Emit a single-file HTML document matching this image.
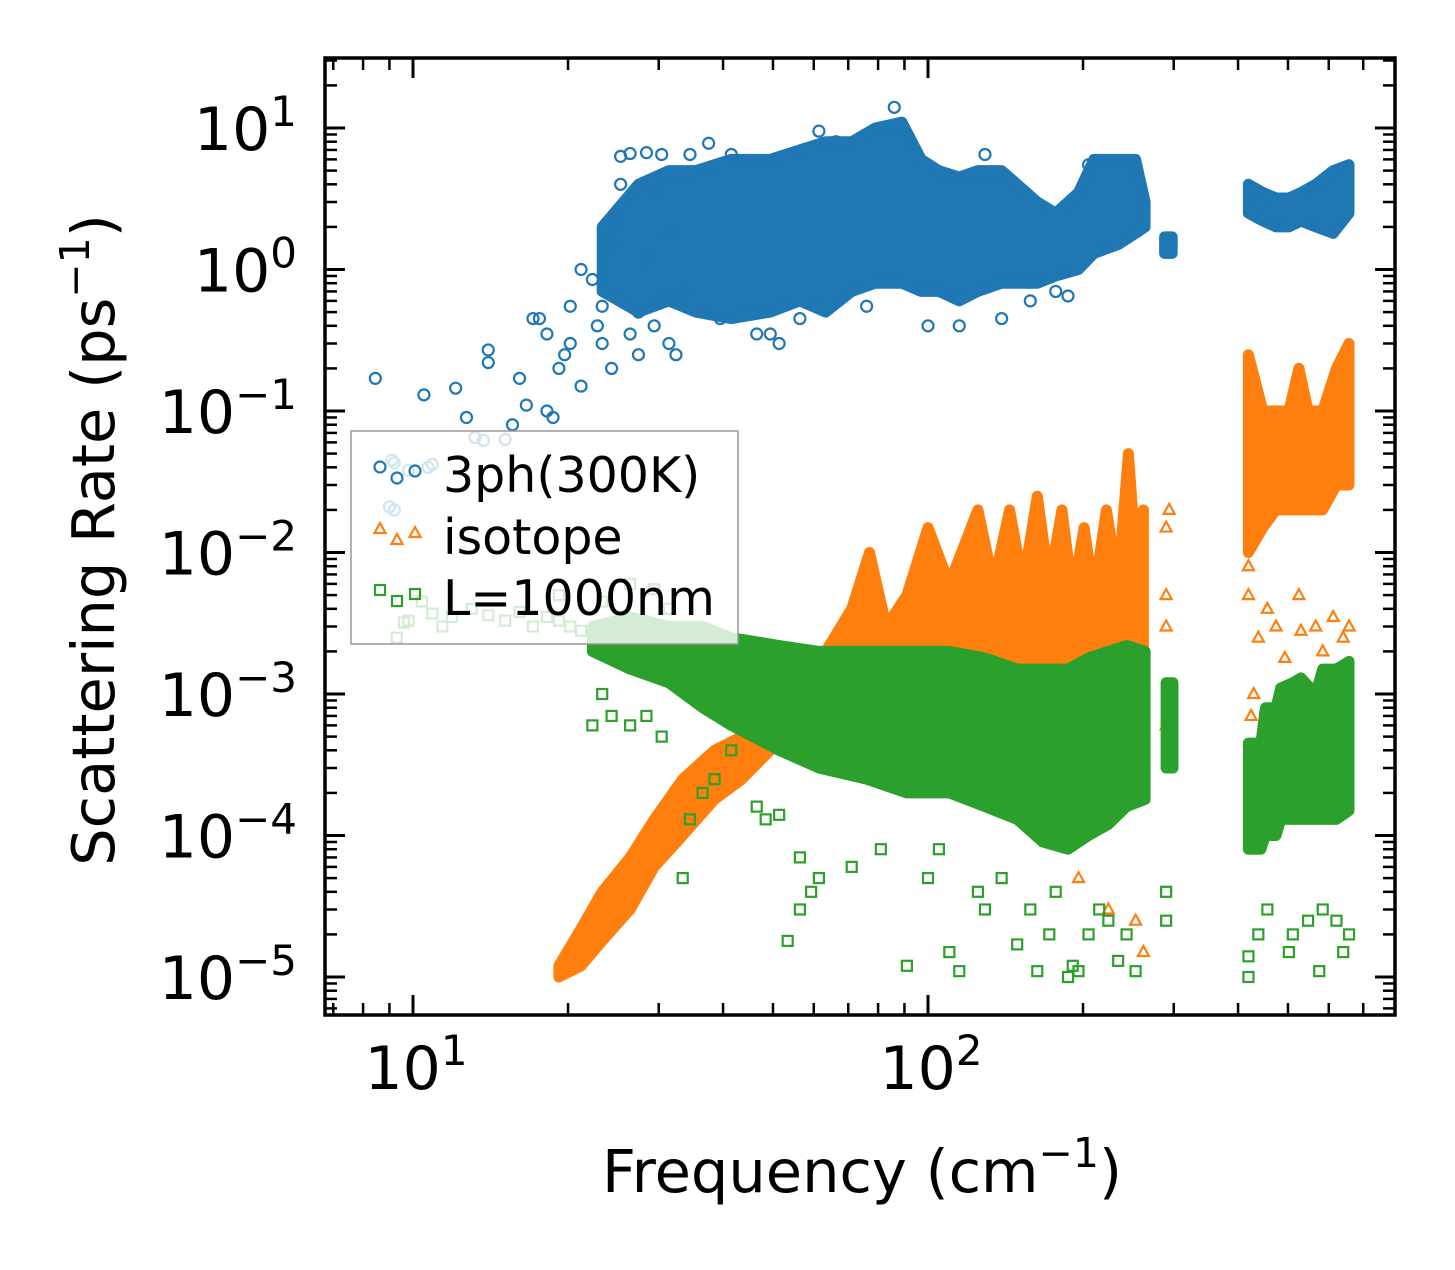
<!DOCTYPE html>
<html><head><meta charset="utf-8"><style>
html,body{margin:0;padding:0;background:#fff}
svg text{font-family:"DejaVu Sans","Liberation Sans",sans-serif;fill:#000}
</style></head><body>
<svg id="chart" width="1455" height="1265" xmlns="http://www.w3.org/2000/svg">
<defs><clipPath id="clip"><rect x="325" y="58" width="1070" height="957"/></clipPath></defs>
<g id="marks" clip-path="url(#clip)"></g>
<g id="axes"></g>
<g id="legend"></g>
</svg>
<script>
// ---- data ----
const blueSparseF=[8.45,10.5,12.1,12.7,13.7,15.1,13.2,14,14,15.6,16.1,16.6,17.1,17.6,18.2,18.2,18.7,19.2,19.7,20.2,20.2,21.2,21.2,22.3,22.8,23.3,23.3,24.3,24.3,24.8,25.3,25.3,26.4,26.4,27.4,27.4,28.4,28.4,29.4,29.4,30.4,30.4,31.4,31.4,32.4,33.4,34.5,37.5,39.5,41.5,46.5,49.4,51.4,56.4,61.4,66.3,76,86,100,115,139,158,177,187,205,129,9.1,9.2,9.8,10.7,10.9,9.0,9.2];
const blueSparseV=[0.17,0.13,0.145,0.09,0.062,0.063,0.065,0.27,0.22,0.08,0.17,0.11,0.45,0.45,0.35,0.1,0.09,0.2,0.25,0.3,0.55,0.15,1.0,0.85,0.4,0.3,0.55,0.2,1.5,2.2,6.3,4,0.35,6.6,0.5,0.25,6.7,1.2,0.4,3.5,0.6,6.5,0.3,1.8,0.25,0.7,6.5,7.8,0.45,6.5,0.35,0.35,0.3,0.45,9.5,8,0.55,14,0.4,0.4,0.45,0.6,0.7,0.65,5.5,6.5,0.045,0.043,0.038,0.04,0.042,0.021,0.02];
const blueBands=[
 {f:[23.3,27.4,31.4,35.4,41.5,49.4,56.4,63.3,71.1,79,89,97,105,115,125,139,149,163,177,196,210,234,253,264],
  lo:[0.7,0.5,0.6,0.5,0.45,0.5,0.6,0.5,0.7,0.8,0.8,0.7,0.7,0.6,0.7,0.8,0.8,0.8,0.9,1.0,1.3,1.5,1.8,2],
  hi:[2,4,5,5,6,6,7,8,8,10,11,6,5,4.5,5,5,4,3,2.5,3.5,6,6,6,3]},
 {f:[288,298],lo:[1.3,1.3],hi:[1.7,1.7]},
 {f:[419,447,474,502,530,566,612,657],lo:[2.5,2.2,2.0,2.0,2.2,2,1.8,2.5],hi:[4,3.5,3.2,3.2,3.5,4,5,5.5]}];
const orangeSparseF=[290,290,290,290,294,419,419,424,429,438,456,474,493,525,530,566,584,612,640,648,657,262,253,196,224];
const orangeSparseV=[1.5e-2,5e-3,3e-3,6e-4,2e-2,5e-3,8e-3,7e-4,1e-3,2.5e-3,4e-3,3e-3,1.8e-3,5e-3,2.8e-3,3e-3,2e-3,3.5e-3,2.5e-3,1.5e-3,3e-3,1.5e-5,2.5e-5,5e-5,3e-5];
const orangeBands=[
 {f:[19.2,21.2,23.3,26.4,29.4,33.4,38.5,43.5,49.4,56.4,63.3,71.1,77,83,91,100,110,125,134,144,153,163,172,182,191,201,210,222,234,245,254,262],
  lo:[1e-5,1.2e-5,1.8e-5,3e-5,6e-5,1e-4,1.8e-4,2.5e-4,4e-4,5e-4,7e-4,8e-4,8e-4,9e-4,1e-3,1e-3,1e-3,1e-3,1e-3,1e-3,1e-3,1e-3,1e-3,1e-3,1e-3,1e-3,1e-3,1e-3,1e-3,1e-3,1e-3,1e-3],
  hi:[1.2e-5,2.2e-5,4e-5,7e-5,1.3e-4,2.5e-4,4e-4,5e-4,1e-3,1.5e-3,2e-3,4e-3,1e-2,3e-3,5e-3,1.5e-2,6e-3,2e-2,6e-3,2e-2,6e-3,2.5e-2,6e-3,2e-2,5e-3,1.5e-2,5e-3,2e-2,6e-3,5e-2,8e-3,2e-2]},
 {f:[419,447,474,502,525,547,584,621,657],lo:[0.01,0.015,0.02,0.02,0.02,0.02,0.02,0.03,0.03],hi:[0.25,0.1,0.1,0.1,0.2,0.1,0.1,0.2,0.3]}];
const greenSparseF=[53.4,51.4,48.4,56.4,59.3,61.4,56.4,71.1,81,91,100,105,110,115,125,129,139,149,158,163,172,177,187,191,196,205,215,224,234,243,253,290,290,419,419,438,456,502,511,547,575,584,621,640,657,22.3,23.3,24.3,26.4,28.4,30.4,33.4,34.5,36.5,38.5,41.5,46.5,9.3,9.6,9.8,10.4,10.9,11.4,11.9,13.0,14.0,15.1,16.1,17.1,18.2,19.2,20.2,21.2,19.2,23.3,26.4,29.4,31.4];
const greenSparseV=[1.8e-5,1.4e-4,1.3e-4,7e-5,4e-5,5e-5,3e-5,6e-5,8e-5,1.2e-5,5e-5,8e-5,1.5e-5,1.1e-5,4e-5,3e-5,5e-5,1.7e-5,3e-5,1.1e-5,2e-5,4e-5,1e-5,1.2e-5,1.1e-5,2e-5,3e-5,2.5e-5,1.3e-5,2e-5,1.1e-5,2.5e-5,4e-5,1e-5,1.4e-5,2e-5,3e-5,1.5e-5,2e-5,2.5e-5,1.1e-5,3e-5,2.5e-5,1.5e-5,2e-5,6e-4,1e-3,7e-4,6e-4,7e-4,5e-4,5e-5,1.3e-4,2e-4,2.5e-4,4e-4,1.6e-4,2.5e-3,3.2e-3,3.3e-3,4.5e-3,3.7e-3,3e-3,3.5e-3,4e-3,3.6e-3,3.3e-3,3.8e-3,3e-3,3.5e-3,3.3e-3,3e-3,2.8e-3,5e-3,4.5e-3,6e-3,5.5e-3,4e-3];
const greenBands=[
 {f:[22.3,26.4,31.4,36.5,41.5,51.4,61.4,76,91,110,129,149,167,187,205,224,243,264],
  lo:[2e-3,1.5e-3,1.2e-3,8e-4,6e-4,4e-4,3e-4,2.5e-4,2e-4,2e-4,1.6e-4,1.3e-4,9e-5,8e-5,1e-4,1.2e-4,1.6e-4,1.8e-4],
  hi:[3e-3,3.5e-3,3e-3,3e-3,2.5e-3,2.2e-3,2e-3,2e-3,2e-3,2e-3,1.8e-3,1.5e-3,1.5e-3,1.5e-3,1.8e-3,2e-3,2.2e-3,2e-3]},
 {f:[290,299],lo:[3e-4,3e-4],hi:[1.2e-3,1.2e-3]},
 {f:[419,443,452,474,484,511,530,566,584,621,657],lo:[8e-5,8e-5,1e-4,1e-4,1.3e-4,1.3e-4,1.3e-4,1.3e-4,1.3e-4,1.3e-4,1.5e-4],hi:[4.5e-4,4.5e-4,8e-4,8e-4,1.1e-3,1.2e-3,1.3e-3,1e-3,1.5e-3,1.5e-3,1.7e-3]}];
const xMajor=[10,100];
const yMajorExp=[-5,-4,-3,-2,-1,0,1];

// ---- axes functions ----
const X0=325,X1=1395,Y0=58,Y1=1015;
function xs(f){return 413+515*(Math.log10(f)-1);}
function ys(v){return 128-141.5*(Math.log10(v)-1);}
const NS="http://www.w3.org/2000/svg";
function el(tag,attrs,parent){const e=document.createElementNS(NS,tag);for(const k in attrs)e.setAttribute(k,attrs[k]);parent.appendChild(e);return e;}
const marks=document.getElementById('marks'),axes=document.getElementById('axes'),legend=document.getElementById('legend');

function band(b,color,name){
  let d='';
  b.f.forEach((f,i)=>{d+=(i?'L':'M')+xs(f).toFixed(1)+' '+ys(b.hi[i]).toFixed(1);});
  for(let i=b.f.length-1;i>=0;i--)d+='L'+xs(b.f[i]).toFixed(1)+' '+ys(b.lo[i]).toFixed(1);
  const p=el('path',{d:d+'Z',fill:color,stroke:color,'stroke-width':11,'stroke-linejoin':'round'},marks);
  
  
}
function marker(type,cx,cy,color,parent,name){
  let e;
  if(type==='o')e=el('circle',{cx:cx,cy:cy,r:5.5,fill:'none',stroke:color,'stroke-width':2.2},parent);
  else if(type==='s')e=el('rect',{x:cx-5,y:cy-5,width:10,height:10,fill:'none',stroke:color,'stroke-width':2.2},parent);
  else e=el('path',{d:`M${cx} ${cy-6}L${cx+5.5} ${cy+4}L${cx-5.5} ${cy+4}Z`,fill:'none',stroke:color,'stroke-width':2.2},parent);
  
  
}
const C1='#1f77b4',C2='#ff7f0e',C3='#2ca02c';
blueBands.forEach(b=>band(b,C1,'3ph-dense-cloud'));
blueSparseF.forEach((f,i)=>marker('o',xs(f),ys(blueSparseV[i]),C1,marks,'3ph-point'));
orangeBands.forEach(b=>band(b,C2,'isotope-dense-cloud'));
orangeSparseF.forEach((f,i)=>marker('^',xs(f),ys(orangeSparseV[i]),C2,marks,'isotope-point'));
greenBands.forEach(b=>band(b,C3,'boundary-dense-cloud'));
greenSparseF.forEach((f,i)=>marker('s',xs(f),ys(greenSparseV[i]),C3,marks,'boundary-point'));

// ---- axes ----
const frame=el('rect',{x:X0,y:Y0,width:X1-X0,height:Y1-Y0,fill:'none',stroke:'#000','stroke-width':3.5},axes);


function tick(x1,y1,x2,y2,w){el('line',{x1:x1,y1:y1,x2:x2,y2:y2,stroke:'#000','stroke-width':w},axes);}
for(let dec=0;dec<=2;dec++){for(let m=1;m<=9;m++){const f=m*Math.pow(10,dec);const x=xs(f);if(x<X0+2||x>X1-2)continue;
  const L=(m===1)?20:12,w=(m===1)?3:2.5;tick(x,Y1,x,Y1-L,w);tick(x,Y0,x,Y0+L,w);}}
for(let e=-6;e<=1;e++){for(let m=1;m<=9;m++){const v=m*Math.pow(10,e);const y=ys(v);if(y<Y0+2||y>Y1-2)continue;
  const L=(m===1)?20:12,w=(m===1)?3:2.5;tick(X0,y,X0+L,y,w);tick(X1,y,X1-L,y,w);}}
xMajor.forEach(f=>{const t=el('text',{x:xs(f)+3,y:1089,'font-size':60,'text-anchor':'middle'},axes);
  t.innerHTML='10<tspan dy="-24" font-size="42">'+Math.log10(f)+'</tspan>';
  
  });
yMajorExp.forEach(e=>{const t=el('text',{x:297,y:ys(Math.pow(10,e))+22,'font-size':60,'text-anchor':'end'},axes);
  t.innerHTML='10<tspan dy="-24" font-size="42">'+(e<0?'\u2212'+(-e):e)+'</tspan>';
  
  });
const xt=el('text',{x:862,y:1192,'font-size':59,'text-anchor':'middle'},axes);
xt.innerHTML='Frequency (cm<tspan dy="-25" font-size="41">\u22121</tspan><tspan dy="25">)</tspan>';


const yt=el('text',{x:0,y:0,'font-size':59,'text-anchor':'middle',transform:'translate(114,540) rotate(-90)'},axes);
yt.innerHTML='Scattering Rate (ps<tspan dy="-25" font-size="41">\u22121</tspan><tspan dy="25">)</tspan>';



// ---- legend ----
const lb=el('rect',{x:351,y:431,width:387,height:213,fill:'#fff','fill-opacity':0.8,stroke:'#999','stroke-width':1.5},legend);


const entries=[['3ph(300K)','o',C1,475],['isotope','^',C2,537],['L=1000nm','s',C3,598]];
entries.forEach(en=>{
  const g=el('g',{},legend);
  
  
  marker(en[1],380,en[3]-8,en[2],g,'legend-marker');
  marker(en[1],397,en[3]+3,en[2],g,'legend-marker');
  marker(en[1],415,en[3]-4,en[2],g,'legend-marker');
  const t=el('text',{x:443,y:en[3]+17,'font-size':49},g);
  t.textContent=en[0];
  
  
});
</script>
</body></html>
